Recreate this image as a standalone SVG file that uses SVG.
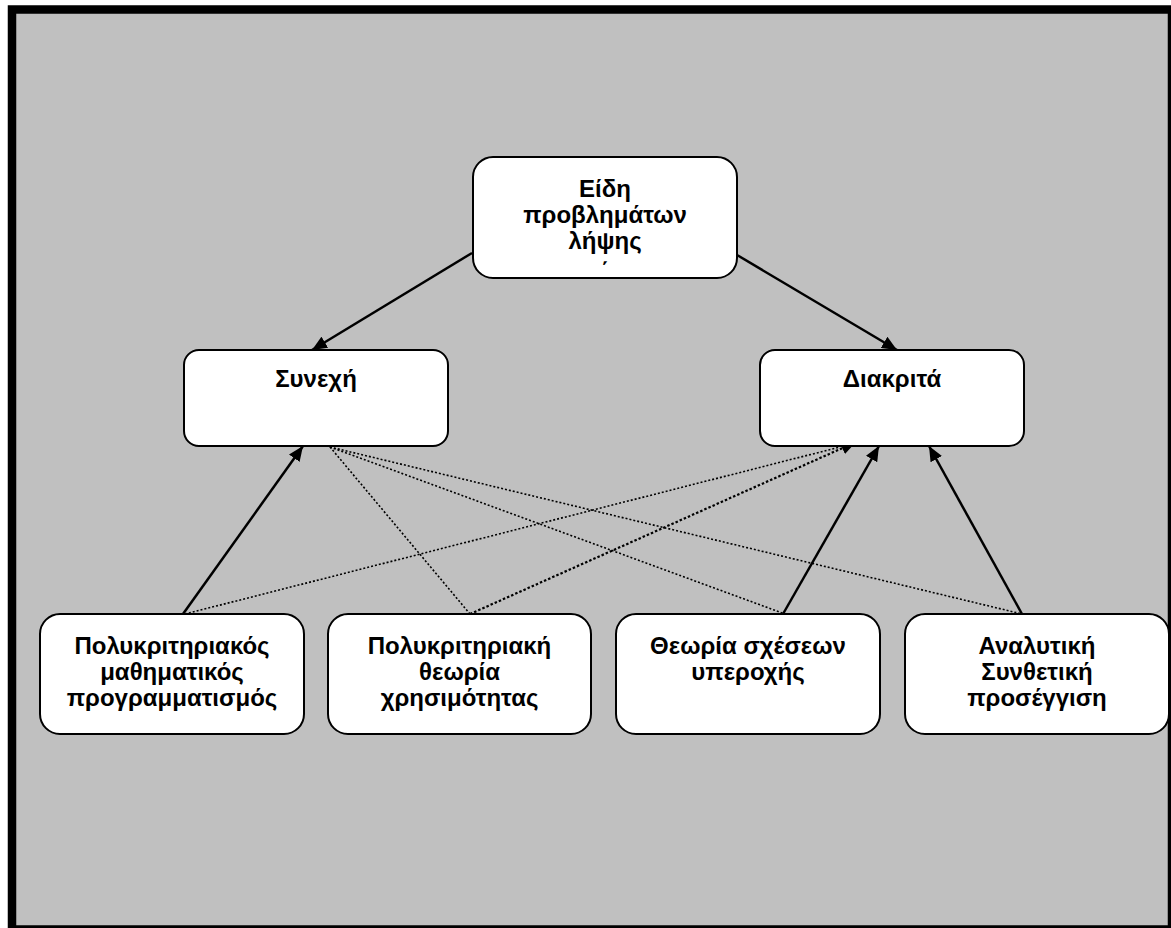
<svg xmlns="http://www.w3.org/2000/svg" width="1171" height="928" viewBox="0 0 1171 928">
<defs>
<marker id="ah" markerUnits="userSpaceOnUse" markerWidth="16" markerHeight="13" refX="15" refY="6.5" orient="auto">
<path d="M0,0 L15,6.5 L0,13 z" fill="#000"/>
</marker>
<style>
.box{fill:#fff;stroke:#000;stroke-width:2}
.t{font-family:"Liberation Sans",Arial,sans-serif;font-size:24px;font-weight:bold;fill:#000;text-anchor:middle}
.solid{stroke:#000;stroke-width:2.5;fill:none}
.dot{stroke:#000;stroke-width:1.6;stroke-dasharray:2 2;fill:none}
.dot2{stroke:#000;stroke-width:2.2;stroke-dasharray:2.5 2;fill:none}
</style>
</defs>
<rect x="0" y="0" width="1171" height="928" fill="#fff"/>
<rect x="12" y="9.5" width="1160" height="920" fill="#c0c0c0" stroke="#000" stroke-width="8.5"/>
<g id="connectors">
<line class="solid" x1="472" y1="253" x2="312" y2="350" marker-end="url(#ah)"/>
<line class="solid" x1="737" y1="255" x2="897" y2="350" marker-end="url(#ah)"/>
<line class="solid" x1="183" y1="614" x2="303" y2="446" marker-end="url(#ah)"/>
<line class="solid" x1="783" y1="614" x2="879" y2="446" marker-end="url(#ah)"/>
<line class="solid" x1="1022" y1="614" x2="929" y2="446" marker-end="url(#ah)"/>
<line class="dot" x1="330" y1="447" x2="470" y2="614"/>
<line class="dot" x1="330" y1="447" x2="785" y2="614"/>
<line class="dot" x1="330" y1="447" x2="1022" y2="614"/>
<line class="dot" x1="185" y1="614" x2="840" y2="447"/>
<line class="dot2" x1="470" y1="614" x2="856" y2="442" marker-end="url(#ah)"/>
</g>
<g id="n-top">
<rect class="box" x="473" y="157" width="264" height="121" rx="20"/>
<text class="t" x="605" y="197">Είδη</text>
<text class="t" x="605" y="223">προβλημάτων</text>
<text class="t" x="605" y="249">λήψης</text>
<text class="t" x="605" y="279">΄</text>
</g>
<g id="n-synexi">
<rect class="box" x="184" y="350" width="264" height="96" rx="15"/>
<text class="t" x="316" y="387">Συνεχή</text>
</g>
<g id="n-diakrita">
<rect class="box" x="760" y="350" width="264" height="96" rx="15"/>
<text class="t" x="892" y="387">Διακριτά</text>
</g>
<g id="n-b1">
<rect class="box" x="40" y="614" width="264" height="120" rx="20"/>
<text class="t" x="172" y="654">Πολυκριτηριακός</text>
<text class="t" x="172" y="680">μαθηματικός</text>
<text class="t" x="172" y="706">προγραμματισμός</text>
</g>
<g id="n-b2">
<rect class="box" x="328" y="614" width="263" height="120" rx="20"/>
<text class="t" x="459.5" y="654">Πολυκριτηριακή</text>
<text class="t" x="459.5" y="680">θεωρία</text>
<text class="t" x="459.5" y="706">χρησιμότητας</text>
</g>
<g id="n-b3">
<rect class="box" x="616" y="614" width="264" height="120" rx="20"/>
<text class="t" x="748" y="654">Θεωρία σχέσεων</text>
<text class="t" x="748" y="680">υπεροχής</text>
</g>
<g id="n-b4">
<rect class="box" x="905" y="614" width="264" height="120" rx="20"/>
<text class="t" x="1037" y="654">Αναλυτική</text>
<text class="t" x="1037" y="680">Συνθετική</text>
<text class="t" x="1037" y="706">προσέγγιση</text>
</g>
</svg>
